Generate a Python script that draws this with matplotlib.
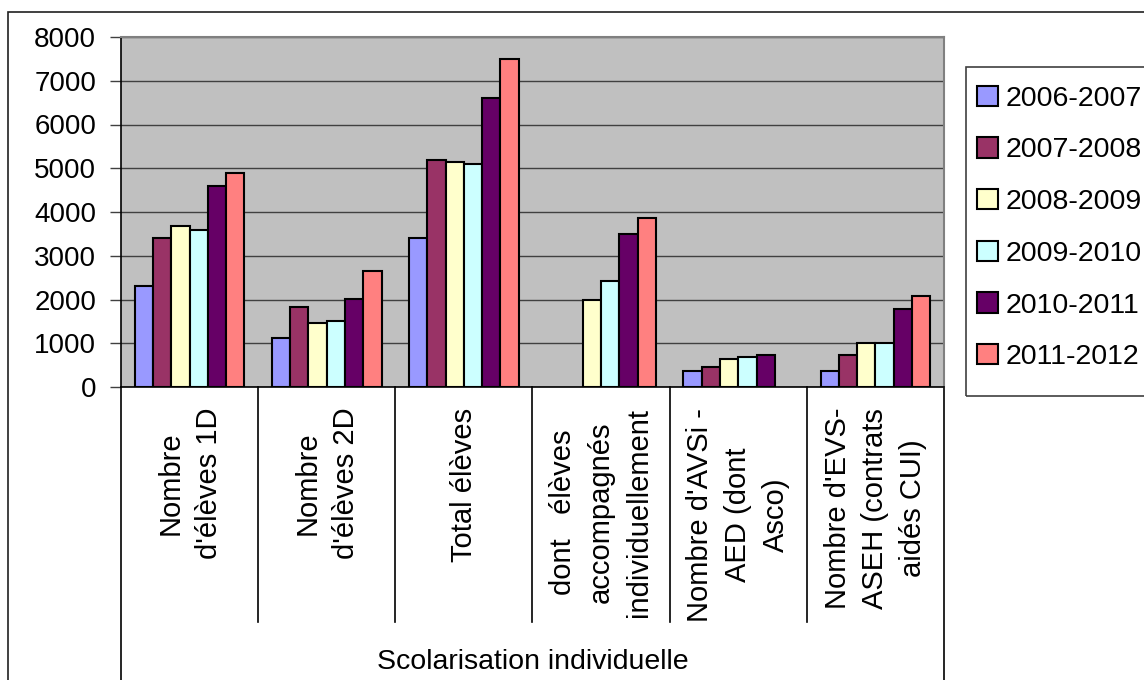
import numpy as np
import matplotlib
matplotlib.use("Agg")
import matplotlib.pyplot as plt
from matplotlib.patches import Rectangle

plt.rcParams['font.family'] = ['Liberation Sans', 'DejaVu Sans']

# ----------------------------------------------------------------------
# Data
# ----------------------------------------------------------------------
categories = [
    "Nombre\nd'élèves 1D",
    "Nombre\nd'élèves 2D",
    "Total élèves",
    "dont   élèves\naccompagnés\nindividuellement",
    "Nombre d'AVSi -\nAED (dont\nAsco)",
    "Nombre d'EVS-\nASEH (contrats\naidés CUI)",
]
years = ['2006-2007', '2007-2008', '2008-2009', '2009-2010', '2010-2011', '2011-2012']

s2006 = [2300, 1110, 3400, np.nan, 370, 370]
s2007 = [3400, 1840, 5180, np.nan, 460, 740]
s2008 = [3680, 1470, 5140, 2000, 640, 1000]
s2009 = [3580, 1520, 5090, 2420, 690, 1000]
s2010 = [4600, 2020, 6600, 3490, 740, 1790]
s2011 = [4900, 2660, 7500, 3860, np.nan, 2070]
series = [s2006, s2007, s2008, s2009, s2010, s2011]

colors = ['#9999FF', '#993366', '#FFFFCC', '#CCFFFF', '#660066', '#FF8080']
group_label = 'Scolarisation individuelle'

# ----------------------------------------------------------------------
# Figure
# ----------------------------------------------------------------------
W, H = 1144, 680
fig = plt.figure(figsize=(W / 100, H / 100), dpi=100)
fig.patch.set_facecolor('white')

# outer chart-area border (cut off right / bottom)
fig.add_artist(Rectangle((8 / W, -0.1), 1.2, 1 - 12 / H + 0.1,
                         transform=fig.transFigure, fill=False,
                         ec='#202020', lw=1.2))

left, right, top, bottom = 121, 944, 37, 387
ax = fig.add_axes([left / W, 1 - bottom / H, (right - left) / W, (bottom - top) / H])
ax.set_facecolor('#C0C0C0')

x = np.arange(len(categories))
n = len(series)
bw = 1 / (n + 1.5)
for i, (vals, c, lab) in enumerate(zip(series, colors, years)):
    ax.bar(x + (i - (n - 1) / 2) * bw, vals, width=bw, color=c,
           edgecolor='black', linewidth=1.5, label=lab, zorder=3)

ax.set_xlim(-0.5, len(categories) - 0.5)
ax.set_ylim(0, 8000)
ax.set_yticks(np.arange(0, 8001, 1000))
ax.yaxis.grid(True, color='#404040', lw=1, zorder=1)
ax.set_axisbelow(True)
ax.tick_params(axis='y', length=8, width=1, pad=10, labelsize=20, colors='black')
ax.tick_params(axis='y', color='#404040')

ax.set_xticks(x)
ax.set_xticklabels(categories, rotation=90, fontsize=21, ha='center', va='top',
                   multialignment='center', linespacing=1.45)
ax.tick_params(axis='x', length=0, pad=15)

for side in ['top', 'right']:
    ax.spines[side].set_color('#808080')
    ax.spines[side].set_linewidth(1.5)
ax.spines['left'].set_color('black')
ax.spines['bottom'].set_color('black')
ax.spines['left'].set_linewidth(1.2)
ax.spines['bottom'].set_linewidth(1.2)

# category divider lines below the axis
xt = ax.get_xaxis_transform()
div_low = -(621.7 - bottom) / (bottom - top)
full_low = -(H + 10 - bottom) / (bottom - top)
for b in np.arange(0.5, len(categories) - 1, 1.0):
    ax.plot([b, b], [0, div_low], transform=xt, color='black', lw=1.2, clip_on=False)
for b in [-0.5, len(categories) - 0.5]:
    ax.plot([b, b], [0, full_low], transform=xt, color='black', lw=1.2, clip_on=False)

ax.text(0.5, -(662 - bottom) / (bottom - top), group_label, transform=ax.transAxes,
        ha='center', va='center', fontsize=20.5)

# legend: entries without frame, frame drawn separately (cut off at the right)
leg = ax.legend(loc='upper left', bbox_to_anchor=(977 / W, 1 - 85.5 / H),
                bbox_transform=fig.transFigure, fontsize=20.5, frameon=False,
                handlelength=0.72, handleheight=0.72, handletextpad=0.28,
                labelspacing=0.9, borderpad=0, borderaxespad=0)
fig.add_artist(Rectangle((966 / W, 1 - 395.5 / H), 0.2, (395.5 - 67) / H,
                         transform=fig.transFigure, fill=False,
                         ec='#404040', lw=1.2))

fig.savefig('out.png', dpi=100)
